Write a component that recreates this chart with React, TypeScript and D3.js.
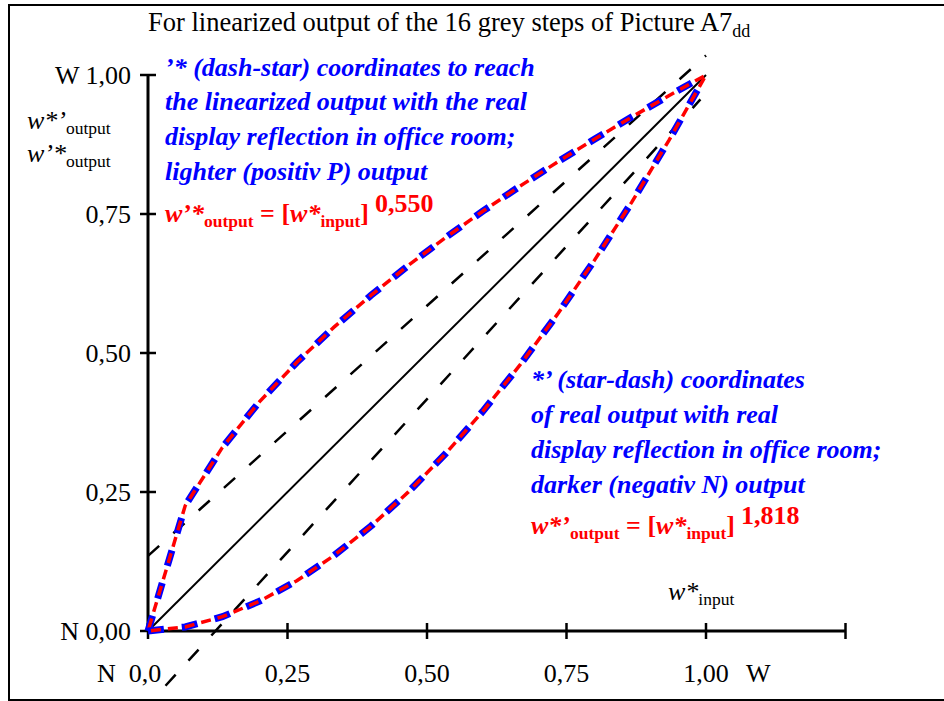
import React from "react";
import * as d3 from "d3";

const steps = [0, 0.0667, 0.1333, 0.2, 0.2667, 0.3333, 0.4, 0.4667, 0.5333, 0.6, 0.6667, 0.7333, 0.8, 0.8667, 0.9333, 1];
const lighterOutput = [0, 0.2255, 0.3302, 0.4126, 0.4834, 0.5465, 0.6041, 0.6577, 0.7077, 0.755, 0.8001, 0.8432, 0.8845, 0.9243, 0.9628, 1];
const darkerOutput = [0, 0.0073, 0.0257, 0.0536, 0.0904, 0.1357, 0.189, 0.2502, 0.3189, 0.3951, 0.4785, 0.569, 0.6666, 0.7709, 0.8821, 1];

const diagonal: [number, number][] = [[0, 0], [1, 1]];
const refUpper: [number, number][] = [[0, 0.135], [1, 1.035]];
const refLower: [number, number][] = [[0, -0.133], [0.99, 0.956]];

const xTicks = [0, 0.25, 0.5, 0.75, 1, 1.25];
const xTickLabels = ["0,0", "0,25", "0,50", "0,75", "1,00", ""];
const yTicks = [0, 0.25, 0.5, 0.75, 1];
const yTickLabels = ["N 0,00", "0,25", "0,50", "0,75", "W 1,00"];

const FONT = "'Liberation Serif', 'Times New Roman', serif";

export default function App() {
  const x = d3.scaleLinear().domain([0, 1]).range([148, 706]);
  const y = d3.scaleLinear().domain([0, 1]).range([631, 75]);
  const line = d3
    .line<[number, number]>()
    .x((d) => x(d[0]))
    .y((d) => y(d[1]));

  const upper = steps.map((s, i) => [s, lighterOutput[i]] as [number, number]);
  const lower = steps.map((s, i) => [s, darkerOutput[i]] as [number, number]);

  const blue = "#0000ff";
  const red = "#ff0000";

  return (
    <svg
      width={944}
      height={701}
      style={{ position: "absolute", left: 0, top: 0, background: "#fff" }}
      fontFamily={FONT}
    >
      <defs>
        <clipPath id="frameClip">
          <rect x={10} y={6} width={940} height={693} />
        </clipPath>
      </defs>
      <rect x={9} y={5} width={945} height={695} fill="#fff" stroke="#000" strokeWidth={2} />

      {/* title */}
      <text x={148} y={31} fontSize={26.5} fill="#000">
        For linearized output of the 16 grey steps of Picture A7
        <tspan fontSize={18} dy={6}>dd</tspan>
      </text>

      <g clipPath="url(#frameClip)">
        {/* axes */}
        <line x1={x(0)} x2={x(1.25)} y1={y(0)} y2={y(0)} stroke="#000" strokeWidth={3} />
        <line x1={x(0)} x2={x(0)} y1={y(0)} y2={y(1)} stroke="#000" strokeWidth={3} />
        {xTicks.map((t) => (
          <line key={"xt" + t} x1={x(t)} x2={x(t)} y1={y(0) - 8} y2={y(0) + 8} stroke="#000" strokeWidth={2.5} />
        ))}
        {yTicks.map((t) => (
          <line key={"yt" + t} x1={x(0) - 8} x2={x(0) + 8} y1={y(t)} y2={y(t)} stroke="#000" strokeWidth={2.5} />
        ))}

        {/* reference lines */}
        <path d={line(diagonal) || ""} fill="none" stroke="#000" strokeWidth={2} />
        <path d={line(refUpper) || ""} fill="none" stroke="#000" strokeWidth={2.5} strokeDasharray="15,19" />
        <path d={line(refLower) || ""} fill="none" stroke="#000" strokeWidth={2.5} strokeDasharray="15,19" strokeDashoffset={8} />

        {/* curves */}
        {[upper, lower].map((pts, i) => (
          <g key={"c" + i}>
            <path d={line(pts) || ""} fill="none" stroke={blue} strokeWidth={7} strokeDasharray="16,18" />
            <path d={line(pts) || ""} fill="none" stroke={red} strokeWidth={3.5} strokeDasharray="10,7" strokeDashoffset={-3} />
          </g>
        ))}
      </g>

      {/* y tick labels */}
      {yTicks.map((t, i) => (
        <text key={"yl" + t} x={131} y={y(t) + 9} fontSize={26} textAnchor="end" fill="#000">
          {yTickLabels[i]}
        </text>
      ))}
      {/* x tick labels */}
      {xTicks.map((t, i) =>
        xTickLabels[i] ? (
          <text key={"xl" + t} x={i === 0 ? x(t) - 3 : x(t)} y={682} fontSize={26} textAnchor="middle" fill="#000">
            {xTickLabels[i]}
          </text>
        ) : null
      )}
      <text x={97} y={682} fontSize={26} fill="#000">N</text>
      <text x={746} y={682} fontSize={26} fill="#000">W</text>

      {/* left axis labels */}
      <text x={27} y={129} fontSize={26} fill="#000">
        <tspan fontStyle="italic">w*’</tspan>
        <tspan fontSize={17.5} dy={5}>output</tspan>
      </text>
      <text x={27} y={162} fontSize={26} fill="#000">
        <tspan fontStyle="italic">w’*</tspan>
        <tspan fontSize={17.5} dy={5}>output</tspan>
      </text>

      {/* x axis label */}
      <text x={668} y={600} fontSize={26} fill="#000">
        <tspan fontStyle="italic">w*</tspan>
        <tspan fontSize={17.5} dy={5}>input</tspan>
      </text>

      {/* upper annotation */}
      <g fontSize={26} fontWeight="bold" fontStyle="italic" fill={blue}>
        <text x={165} y={76}>’* (dash-star) coordinates to reach</text>
        <text x={165} y={110}>the linearized output with the real</text>
        <text x={165} y={145}>display reflection in office room;</text>
        <text x={165} y={180}>lighter (positiv P) output</text>
      </g>
      <text x={165} y={222} fontSize={26} fontWeight="bold" fill={red}>
        <tspan fontStyle="italic">w’*</tspan>
        <tspan fontSize={17.5} dy={5}>output</tspan>
        <tspan dy={-5}> = [</tspan>
        <tspan fontStyle="italic">w*</tspan>
        <tspan fontSize={17.5} dy={5}>input</tspan>
        <tspan dy={-5}>]</tspan>
        <tspan dx={6} dy={-10}>0,550</tspan>
      </text>

      {/* lower annotation */}
      <g fontSize={26} fontWeight="bold" fontStyle="italic" fill={blue}>
        <text x={531} y={388}>*’ (star-dash) coordinates</text>
        <text x={531} y={423}>of real output with real</text>
        <text x={531} y={458}>display reflection in office room;</text>
        <text x={531} y={493}>darker (negativ N) output</text>
      </g>
      <text x={531} y={534} fontSize={26} fontWeight="bold" fill={red}>
        <tspan fontStyle="italic">w*’</tspan>
        <tspan fontSize={17.5} dy={5}>output</tspan>
        <tspan dy={-5}> = [</tspan>
        <tspan fontStyle="italic">w*</tspan>
        <tspan fontSize={17.5} dy={5}>input</tspan>
        <tspan dy={-5}>]</tspan>
        <tspan dx={6} dy={-10}>1,818</tspan>
      </text>
    </svg>
  );
}
